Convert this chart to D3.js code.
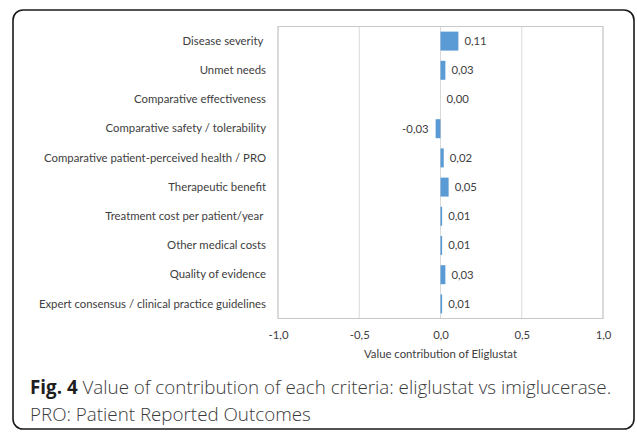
<!DOCTYPE html>
<html>
<head>
<meta charset="utf-8">
<script src="https://cdn.jsdelivr.net/npm/d3@7"></script>
<style>
  html, body { margin: 0; padding: 0; background: #fff; }
  svg { display: block; }
  text { white-space: pre; }
</style>
</head>
<body>
<svg id="chart" width="637" height="432"></svg>
<script>
// Criteria (top to bottom) and their value contribution
const criteria = [
  "Disease severity ",
  "Unmet needs",
  "Comparative effectiveness",
  "Comparative safety / tolerability",
  "Comparative patient-perceived health / PRO",
  "Therapeutic benefit",
  "Treatment cost per patient/year ",
  "Other medical costs",
  "Quality of evidence",
  "Expert consensus / clinical practice guidelines"
];
const contributions = [0.11, 0.03, 0.00, -0.03, 0.02, 0.05, 0.01, 0.01, 0.03, 0.01];
const xTicks = [-1.0, -0.5, 0.0, 0.5, 1.0];
const axisTitle = "Value contribution of Eliglustat";
const captionBold = "Fig. 4";
const captionLine1 = " Value of contribution of each criteria: eliglustat vs imiglucerase.";
const captionLine2 = "PRO: Patient Reported Outcomes";

const svg = d3.select("#chart");
const labelFont = "Lato, 'Open Sans', sans-serif";
const labelSize = 11.35;
const captionSize = 18.8;

// Frame around the figure
svg.append("rect")
  .attr("x", 13).attr("y", 10)
  .attr("width", 621).attr("height", 419)
  .attr("rx", 10).attr("ry", 10)
  .attr("fill", "#fff")
  .attr("stroke", "#1a1a1a")
  .attr("stroke-width", 1.6);

const plot = { left: 278, right: 603, top: 26.5, bottom: 318.5 };

const x = d3.scaleLinear().domain([-1, 1]).range([plot.left, plot.right]);
const y = d3.scaleBand().domain(criteria).range([plot.top, plot.bottom]).paddingInner(0.35).paddingOuter(0.175);

const fmt2 = v => d3.format(".2f")(v).replace(".", ",").replace("−", "-");
const fmt1 = v => d3.format(".1f")(v).replace(".", ",").replace("−", "-");

// Vertical gridlines
svg.append("g")
  .selectAll("line")
  .data(xTicks)
  .join("line")
  .attr("x1", d => x(d)).attr("x2", d => x(d))
  .attr("y1", plot.top).attr("y2", plot.bottom)
  .attr("stroke", "#d9d9d9")
  .attr("stroke-width", 1);

// Plot area border
svg.append("rect")
  .attr("x", plot.left).attr("y", plot.top)
  .attr("width", plot.right - plot.left).attr("height", plot.bottom - plot.top)
  .attr("fill", "none")
  .attr("stroke", "#c8c8c8")
  .attr("stroke-width", 1);

// Bars
svg.append("g")
  .selectAll("rect")
  .data(contributions)
  .join("rect")
  .attr("x", d => x(Math.min(0, d)))
  .attr("y", (d, i) => y(criteria[i]))
  .attr("width", d => Math.abs(x(d) - x(0)))
  .attr("height", y.bandwidth())
  .attr("fill", "#5b9bd5");

// Value labels
svg.append("g")
  .selectAll("text")
  .data(contributions)
  .join("text")
  .attr("x", d => d < 0 ? x(d) - 7 : x(d) + 6)
  .attr("y", (d, i) => y(criteria[i]) + y.bandwidth() / 2)
  .attr("dy", "0.35em")
  .attr("text-anchor", d => d < 0 ? "end" : "start")
  .attr("font-family", labelFont)
  .attr("font-size", labelSize)
  .attr("fill", "#404040")
  .text(d => fmt2(d));

// Category labels
const yAxis = d3.axisLeft(y).tickSize(0).tickPadding(12);
const gy = svg.append("g").attr("transform", `translate(${plot.left},0)`).call(yAxis);
gy.select(".domain").remove();
gy.selectAll("text")
  .attr("font-family", labelFont)
  .attr("font-size", labelSize)
  .attr("fill", "#404040");

// X axis tick labels
const xAxis = d3.axisBottom(x).tickValues(xTicks).tickSize(0).tickPadding(12).tickFormat(fmt1);
const gx = svg.append("g").attr("transform", `translate(0,${plot.bottom})`).call(xAxis);
gx.select(".domain").remove();
gx.selectAll("text")
  .attr("font-family", labelFont)
  .attr("font-size", labelSize)
  .attr("fill", "#404040");

// Axis title
svg.append("text")
  .attr("x", x(0))
  .attr("y", 358)
  .attr("text-anchor", "middle")
  .attr("font-family", labelFont)
  .attr("font-size", labelSize)
  .attr("fill", "#404040")
  .text(axisTitle);

// Caption
const cap = svg.append("text")
  .attr("x", 30).attr("y", 394)
  .attr("font-family", "'Open Sans', sans-serif")
  .attr("font-weight", 300)
  .attr("font-size", captionSize)
  .attr("fill", "#3a3a3a");
cap.append("tspan").attr("font-weight", "bold").attr("fill", "#1e1e1e").text(captionBold);
cap.append("tspan").text(captionLine1);

svg.append("text")
  .attr("x", 30).attr("y", 421)
  .attr("font-family", "'Open Sans', sans-serif")
  .attr("font-weight", 300)
  .attr("font-size", captionSize)
  .attr("fill", "#3a3a3a")
  .text(captionLine2);
</script>
</body>
</html>
